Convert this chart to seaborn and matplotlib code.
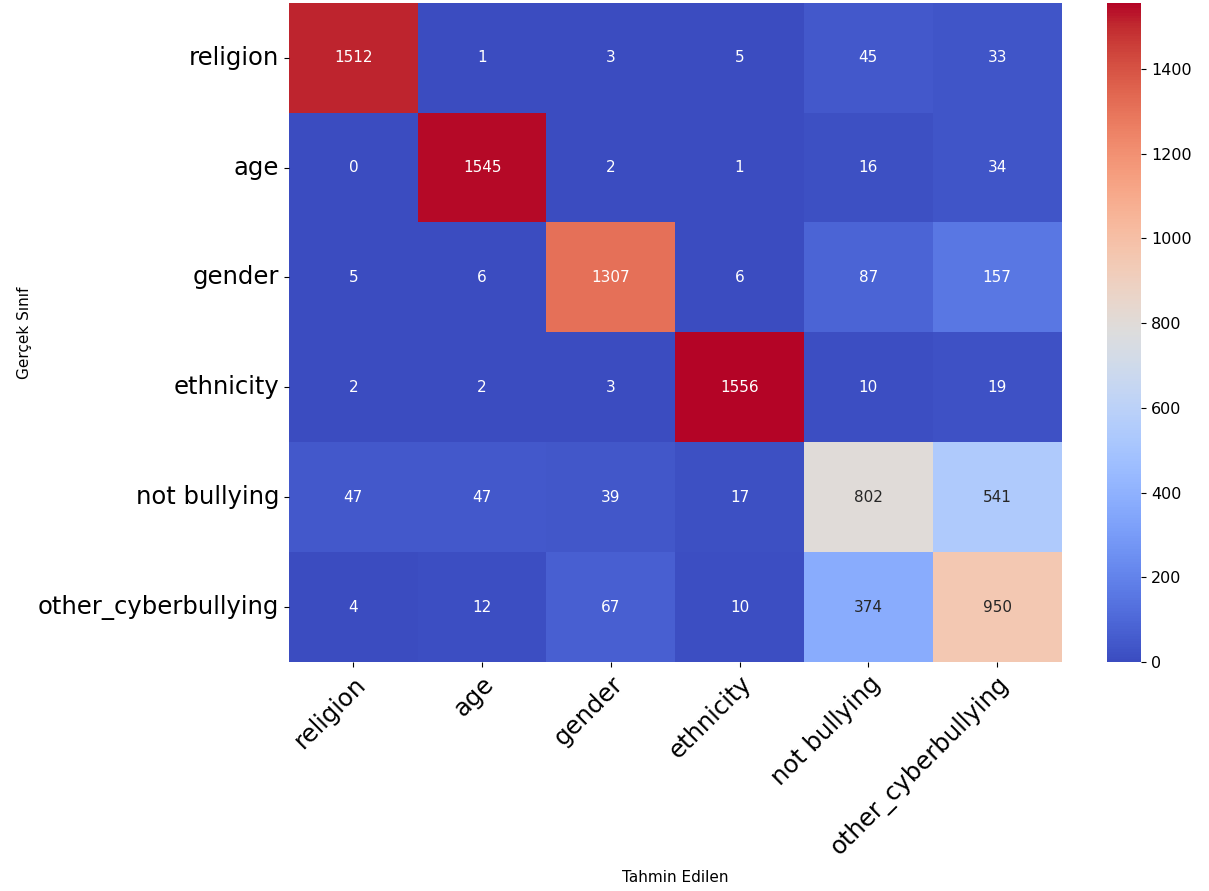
import numpy as np
import pandas as pd
import matplotlib
matplotlib.use("Agg")
import matplotlib.pyplot as plt
import seaborn as sns

classes = ["religion", "age", "gender", "ethnicity", "not bullying", "other_cyberbullying"]

religion = [1512, 1, 3, 5, 45, 33]
age = [0, 1545, 2, 1, 16, 34]
gender = [5, 6, 1307, 6, 87, 157]
ethnicity = [2, 2, 3, 1556, 10, 19]
not_bullying = [47, 47, 39, 17, 802, 541]
other_cyberbullying = [4, 12, 67, 10, 374, 950]

cm = pd.DataFrame(
    [religion, age, gender, ethnicity, not_bullying, other_cyberbullying],
    index=classes, columns=classes,
)

fig = plt.figure(figsize=(12.09, 8.91), dpi=100)
ax = fig.add_axes([0.239, 0.257, 0.639, 0.740])
cax = fig.add_axes([0.916, 0.257, 0.028, 0.740])

sns.heatmap(cm, annot=True, fmt="d", cmap="coolwarm", ax=ax, cbar_ax=cax,
            annot_kws={"fontsize": 11})

ax.set_xticklabels(classes, rotation=45, ha="right", rotation_mode="anchor", fontsize=17.5)
ax.set_yticklabels(classes, rotation=0, fontsize=17.5)
ax.set_xlabel("Tahmin Edilen", fontsize=11, labelpad=7)
ax.set_ylabel("Gerçek Sınıf", fontsize=11, labelpad=4)
cax.tick_params(labelsize=11.5)

fig.savefig("out.png", dpi=100)
